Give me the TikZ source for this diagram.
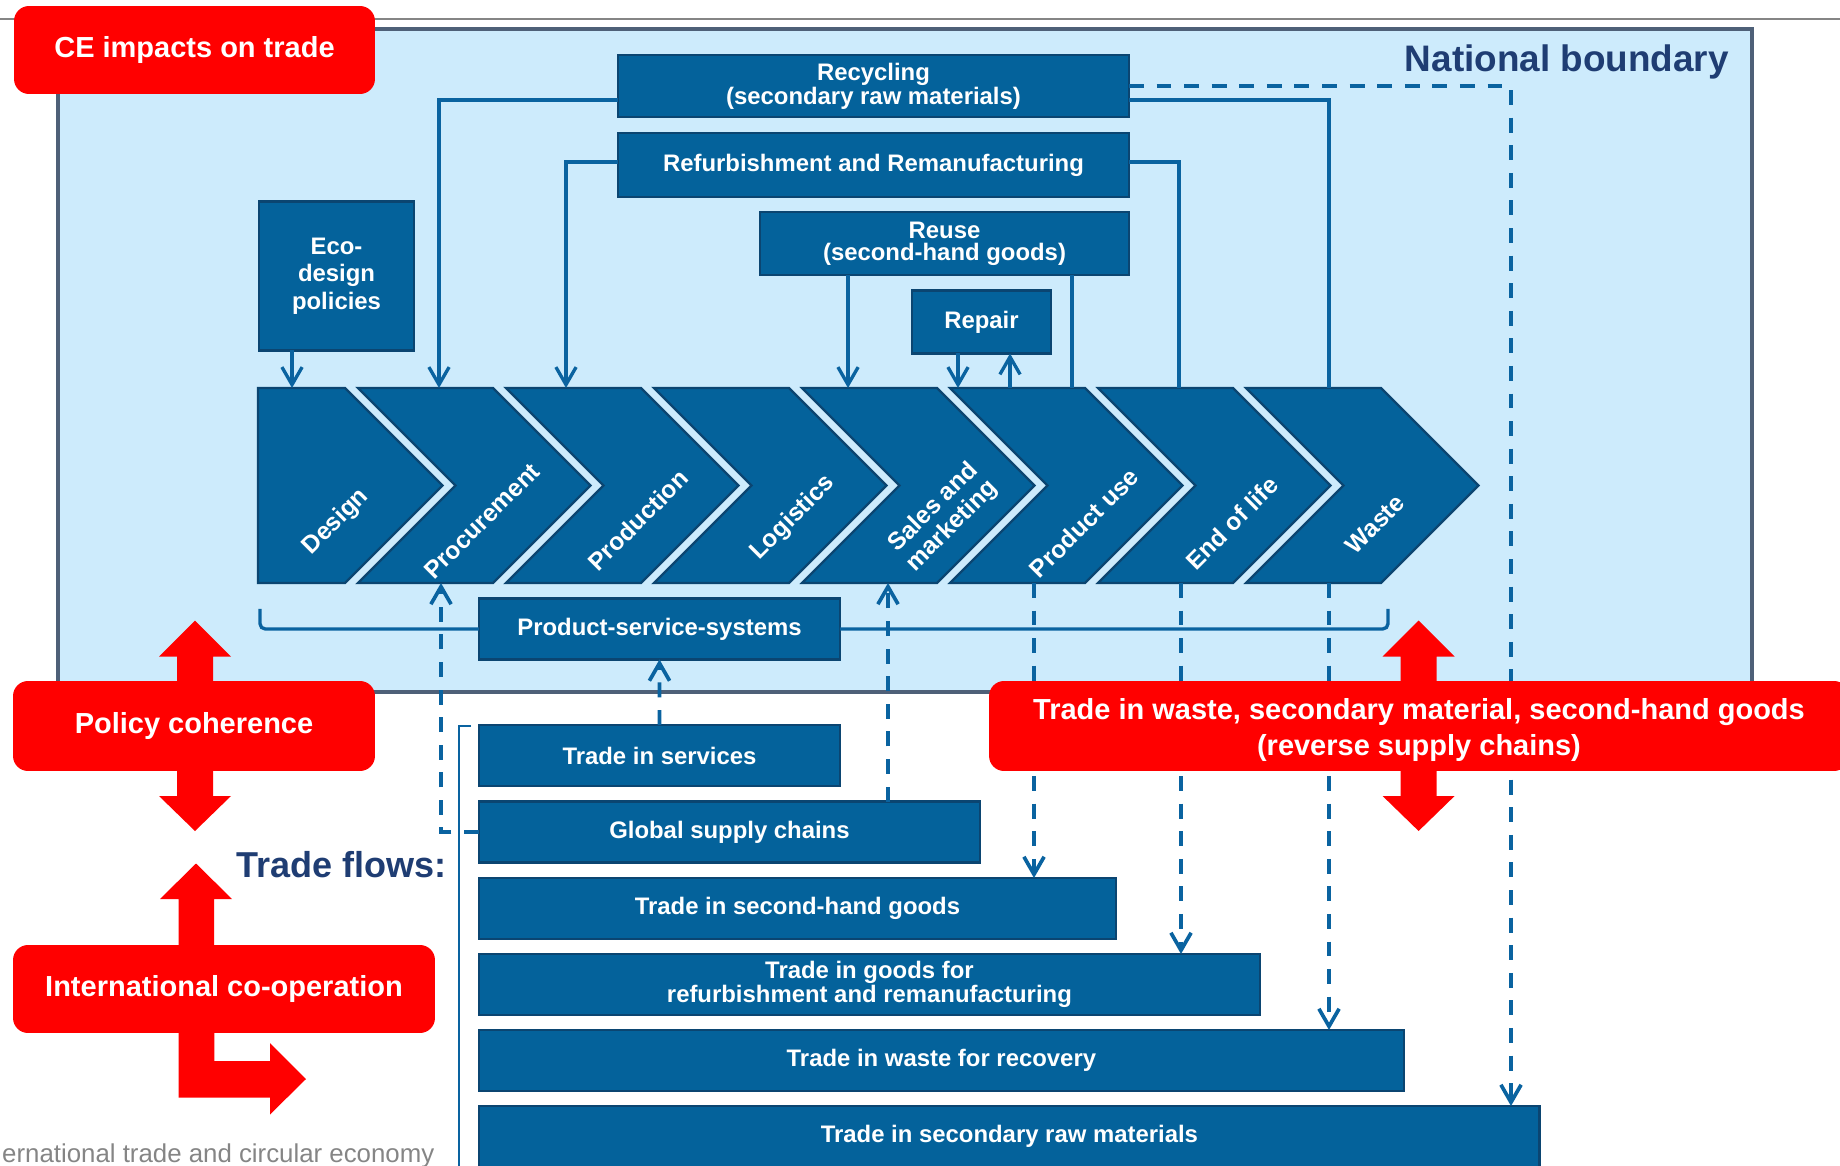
\documentclass[tikz,border=0pt]{standalone}
\usepackage{fontspec}
\setmainfont{Liberation Sans}
\definecolor{ceSky}{HTML}{CDEBFC}
\definecolor{ceBlue}{HTML}{04629B}
\definecolor{ceEdge}{HTML}{0B4571}
\definecolor{ceLine}{HTML}{0A63A0}
\definecolor{ceFrame}{HTML}{4E6078}
\definecolor{ceNavy}{HTML}{1F3D73}
\definecolor{ceGrey}{HTML}{858585}
\usetikzlibrary{calc,positioning,arrows.meta,shapes.symbols}

\newcommand{\boxfnt}{\fontsize{13.6}{12.6}\selectfont\bfseries}
\newcommand{\redfnt}{\fontsize{16.5}{20.4}\selectfont\bfseries}

\tikzset{
  blk/.style={draw=ceEdge, fill=ceBlue, line width=1.5pt, text=white, font=\boxfnt,
    align=center, inner sep=0pt, outer sep=0pt},
  chev/.style={signal, signal to=east, signal from=west, signal pointer angle=90,
    minimum height=3.9cm, minimum width=4.65cm, fill=ceBlue, draw=ceEdge,
    line width=1.3pt, inner sep=0pt, outer sep=0pt},
  chevtxt/.style={text=white, font=\fontsize{14}{15}\selectfont\bfseries, rotate=45, align=center},
  redbox/.style={fill=red, rounded corners=0.3cm, text=white, font=\redfnt,
    align=center, inner sep=0pt, outer sep=0pt},
  flow/.style={draw=ceLine, line width=1.9pt},
  dflow/.style={flow, line width=2.1pt, dash pattern=on 8.5pt off 7.2pt},
}

\begin{document}
\begin{tikzpicture}[x=0.02cm, y=-0.02cm, >={Straight Barb[length=10pt,width=11.5pt]}]
  \useasboundingbox (0,0) rectangle (1840,1166);
  % national boundary
  \draw[ceGrey, line width=1.1pt] (0,19) -- (1840,19);
  \draw[ceFrame, fill=ceSky, line width=2pt] (58,29) rectangle (1752,692);
  \node[font=\fontsize{21}{25}\selectfont\bfseries, text=ceNavy, anchor=east] (natb) at (1735,62) {National boundary};

  % value chain
  \node[chev, signal from=nowhere, minimum width=3.69cm, anchor=north west] (des) at (258,388) {};
  \foreach \n [count=\i from 0] in {proc,prod,logi,sales,use,eol,waste}
    \node[chev, anchor=north west] (\n) at ({358+148*\i},388) {};
  \node[chevtxt] (tdes) at (336,522) {Design};
  \node[chevtxt] (tproc) at (482,521) {Procurement};
  \node[chevtxt] (tprod) at (638,520) {Production};
  \node[chevtxt] (tlogi) at (793,518) {Logistics};
  \node[chevtxt] (tsales) at (943,517) {Sales and\\marketing};
  \node[chevtxt] (tuse) at (1084,523) {Product use};
  \node[chevtxt] (teol) at (1232,523) {End of life};
  \node[chevtxt] (twaste) at (1375,524) {Waste};

  % loops
  \node[blk, minimum width=10.22cm, minimum height=1.24cm] (recyc) at (873.5,86) {Recycling\\(secondary raw materials)};
  \node[blk, minimum width=10.22cm, minimum height=1.28cm] (refurb) at (873.5,165) {Refurbishment and Remanufacturing};
  \node[blk, minimum width=7.38cm, minimum height=1.26cm] (reuse) at (944.5,243.5) {Reuse\\(second-hand goods)};
  \node[blk, minimum width=2.78cm, minimum height=1.26cm] (repair) at (981.5,322) {Repair};
  \node[blk, minimum width=3.1cm, minimum height=2.98cm, font=\fontsize{13.6}{15.6}\selectfont\bfseries] (eco) at (336.5,276) {Eco-\\design\\policies};
  \node[blk, minimum width=7.22cm, minimum height=1.22cm] (pss) at (659.5,629) {Product-service-systems};

  % trade flows
  \node[blk, anchor=west, minimum width=7.22cm, minimum height=1.22cm] (tsrv) at (479,755.5) {Trade in services};
  \node[blk, anchor=west, minimum width=10.02cm, minimum height=1.22cm] (gsc) at (479,832) {Global supply chains};
  \node[blk, anchor=west, minimum width=12.74cm, minimum height=1.22cm] (tshg) at (479,908.5) {Trade in second-hand goods};
  \node[blk, anchor=west, minimum width=15.62cm, minimum height=1.22cm] (trefurb) at (479,984.5) {Trade in goods for\\refurbishment and remanufacturing};
  \node[blk, anchor=west, minimum width=18.5cm, minimum height=1.22cm] (twaste) at (479,1060.5) {Trade in waste for recovery};
  \node[blk, anchor=west, minimum width=21.22cm, minimum height=1.22cm] (tsrm) at (479,1136.5) {Trade in secondary raw materials};
  \node[font=\fontsize{20.5}{24}\selectfont\bfseries, text=ceNavy, anchor=east] (tflows) at (453,865) {Trade flows:};

  % connectors
  \draw[flow,->] ($(eco.south west)+(33,0)$) coordinate (e1) -- (e1 |- des.north);
  \draw[flow,->] ($(recyc.west)+(0,14)$) -| ($(proc.north west)+(81,0)$);
  \draw[flow] ($(recyc.east)+(0,14)$) -| ($(waste.north west)+(83,0)$);
  \draw[flow,->] ($(refurb.west)+(0,-3)$) -| ($(prod.north west)+(60,0)$);
  \draw[flow] ($(refurb.east)+(0,-3)$) -| ($(eol.north west)+(81,0)$);
  \draw[flow,->] ($(reuse.south west)+(88,0)$) coordinate (r1) -- (r1 |- sales.north);
  \draw[flow] ($(reuse.south west)+(312,0)$) coordinate (r2) -- (r2 |- use.north);
  \draw[flow,->] ($(repair.south west)+(46,0)$) coordinate (p1) -- (p1 |- use.north);
  \draw[flow,<-] ($(repair.south west)+(98,0)$) coordinate (p2) -- (p2 |- use.north);
  \draw[flow, rounded corners=3pt] ($(des.south west)+(2,26)$) |- (pss.west);
  \draw[flow, rounded corners=3pt] (pss.east) -| ($(waste.south west)+(142,26)$);
  \draw[draw=ceLine, line width=1pt] ($(tsrv.north west)+(-8,1)$) -| ($(tsrm.south west)+(-20,10)$);

  \draw[dflow,->] (recyc.east) -| ($(tsrm.north west)+(1032,0)$);
  \draw[dflow,->] ($(use.south west)+(84,0)$) coordinate (d1) -- (d1 |- tshg.north);
  \draw[dflow,->] ($(eol.south west)+(83,0)$) coordinate (d2) -- (d2 |- trefurb.north);
  \draw[dflow,->] ($(waste.south west)+(83,0)$) coordinate (d3) -- (d3 |- twaste.north);
  \draw[dflow,->] (gsc.west) -| ($(proc.south west)+(83,0)$);
  \draw[dflow,->] ($(gsc.north west)+(409,0)$) coordinate (d4) -- (d4 |- sales.south);
  \draw[dflow,->] (tsrv.north) -- (pss.south);

  % red arrows
  \foreach \ax in {195,1418.6}
    \fill[red] (\ax,620.6) -- ++(36,36) -- ++(-18,0) -- (\ax+18,796) -- ++(18,0) -- (\ax,831)
      -- ++(-36,-35) -- ++(18,0) -- (\ax-18,656.6) -- ++(-18,0) -- cycle;
  \fill[red] (196,863.5) -- (232,899) -- (214,899) -- (214,960) -- (178.6,960) -- (178.6,899) -- (160,899) -- cycle;
  \fill[red] (178.6,1020) |- (270,1097.5) -- (270,1114.5) -- (306,1079) -- (270,1043) -- (270,1061) -| (214.3,1020) -- cycle;

  % red labels
  \node[redbox, minimum width=7.22cm, minimum height=1.76cm] (ce) at (194.5,50) {CE impacts on trade};
  \node[redbox, minimum width=7.24cm, minimum height=1.8cm] (pol) at (194,726) {Policy coherence};
  \node[redbox, minimum width=8.44cm, minimum height=1.76cm] (intl) at (224,989) {International co-operation};
  \node[redbox, minimum width=17.2cm, minimum height=1.8cm] (rsc) at (1419,726) {\raisebox{-2.5pt}[\height][\depth]{\parbox{17cm}{\centering Trade in waste, secondary material, second-hand goods\\(reverse supply chains)}}};

  \node[font=\fontsize{14.7}{17}\selectfont, text=ceGrey, anchor=west] (foot) at (-4,1156) {ernational trade and circular economy};
\end{tikzpicture}
\end{document}
